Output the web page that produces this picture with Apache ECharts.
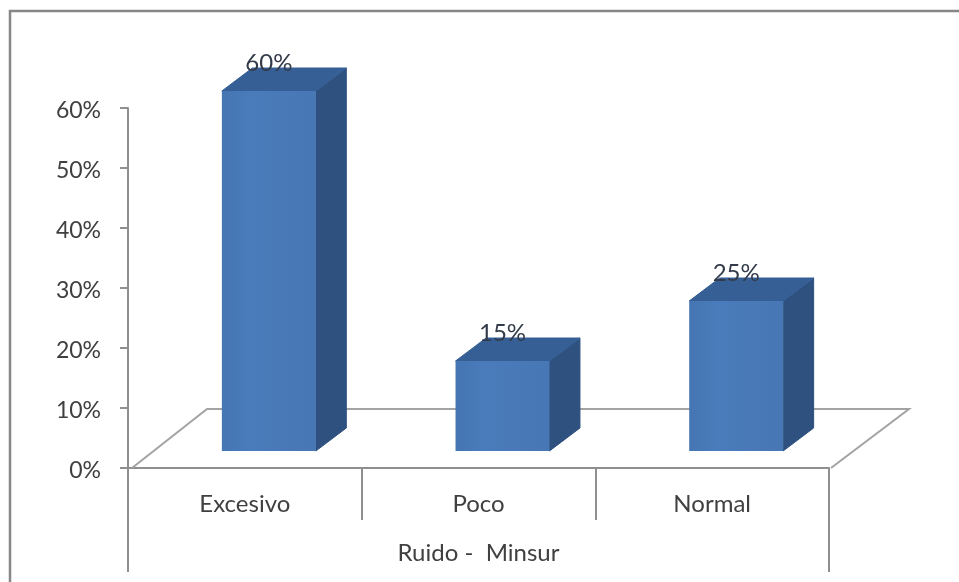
<!DOCTYPE html>
<html>
<head>
<meta charset="utf-8">
<style>
  html, body { margin: 0; padding: 0; background: #ffffff; }
  #chart { width: 959px; height: 582px; }
</style>
<script src="https://cdn.jsdelivr.net/npm/echarts@6/dist/echarts.min.js"></script>
</head>
<body>
<div id="chart"></div>
<script>
// Noise survey results, shown as percentages per category
const categories = ['Excesivo', 'Poco', 'Normal'];
const percentages = [60, 15, 25];
const groupLabel = ['Ruido -  Minsur'];

// Oblique projection used for the pseudo-3D look (pixels)
const FLOOR_DX = 78, FLOOR_DY = 59;
const BAR_DX = 30.5, BAR_DY = 23;
const BAR_LIFT = 17, BAR_SHIFT = 24, BAR_RATIO = 0.402;

const INK = '#404040';
const RULE = '#8f8f8f';
const FONT = 'Lato, "Open Sans", sans-serif';

function renderFloor(params, api) {
  const r = params.coordSys;
  const x0 = r.x, x1 = r.x + r.width, y0 = r.y + r.height;
  return {
    type: 'polyline',
    shape: {
      points: [
        [x0 + 4, y0],
        [x0 + FLOOR_DX + 1, y0 - FLOOR_DY],
        [x1 + 2 + FLOOR_DX, y0 - FLOOR_DY],
        [x1 + 2, y0]
      ]
    },
    style: { fill: 'none', stroke: '#a3a3a3', lineWidth: 2 },
    silent: true
  };
}

function renderBar(params, api) {
  const value = api.value(1);
  const base = api.coord([api.value(0), 0]);
  const top = api.coord([api.value(0), value]);
  const w = api.size([1, 0])[0] * BAR_RATIO;
  const xl = base[0] + BAR_SHIFT - w / 2, xr = xl + w;
  const yb = base[1] - BAR_LIFT, yt = top[1] - BAR_LIFT;
  return {
    type: 'group',
    children: [
      {
        type: 'polygon',
        shape: { points: [[xr, yb], [xr + BAR_DX, yb - BAR_DY], [xr + BAR_DX, yt - BAR_DY], [xr, yt]] },
        style: { fill: '#2e5180', stroke: '#2e5180', lineWidth: 1 }
      },
      {
        type: 'polygon',
        shape: { points: [[xl, yt], [xr, yt], [xr + BAR_DX, yt - BAR_DY], [xl + BAR_DX, yt - BAR_DY]] },
        style: { fill: '#365f96', stroke: '#365f96', lineWidth: 1 }
      },
      {
        type: 'rect',
        shape: { x: xl, y: yt, width: w, height: yb - yt },
        style: {
          fill: new echarts.graphic.LinearGradient(0, 0, 1, 0, [
            { offset: 0, color: '#4575b3' },
            { offset: 0.3, color: '#4a7bba' },
            { offset: 1, color: '#4877b5' }
          ])
        }
      },
      {
        type: 'text',
        style: {
          x: (xl + xr) / 2, y: yt - 28,
          text: value + '%',
          fill: '#333b4a',
          font: '24px ' + FONT,
          align: 'center', verticalAlign: 'middle'
        }
      }
    ]
  };
}

const chart = echarts.init(document.getElementById('chart'), null, { renderer: 'canvas' });
chart.setOption({
  animation: false,
  backgroundColor: '#ffffff',
  grid: { left: 128, top: 108, width: 701, height: 360 },
  graphic: [{
    type: 'polyline',
    silent: true,
    shape: { points: [[10, 582], [10, 11], [959, 11]] },
    style: { fill: 'none', stroke: '#878787', lineWidth: 2.5 }
  }],
  xAxis: [
    {
      type: 'category',
      data: categories,
      position: 'bottom',
      axisLine: { lineStyle: { color: RULE, width: 2 } },
      axisTick: { show: true, length: 52, interval: 0, alignWithLabel: false, lineStyle: { color: RULE, width: 2 } },
      axisLabel: { color: INK, fontFamily: FONT, fontSize: 24, margin: 24, interval: 0 }
    },
    {
      type: 'category',
      data: groupLabel,
      position: 'bottom',
      offset: 52,
      axisLine: { show: false },
      axisTick: { show: true, length: 52, interval: 0, lineStyle: { color: RULE, width: 2 } },
      axisLabel: { color: INK, fontFamily: FONT, fontSize: 24, margin: 21 }
    }
  ],
  yAxis: {
    type: 'value',
    min: 0, max: 60, interval: 10,
    axisLine: { show: true, lineStyle: { color: RULE, width: 2 } },
    axisTick: { show: true, length: 8, lineStyle: { color: RULE, width: 2 } },
    axisLabel: {
      margin: 27,
      formatter: '{tick|{value}%}',
      rich: { tick: { color: INK, fontFamily: FONT, fontSize: 23, padding: [6, 0, 0, 0] } }
    },
    splitLine: { show: false }
  },
  series: [
    { type: 'custom', name: 'Suelo', renderItem: renderFloor, data: [0], z: 1, silent: true },
    {
      type: 'custom',
      name: 'Ruido',
      renderItem: renderBar,
      encode: { x: 0, y: 1 },
      data: categories.map((c, i) => [i, percentages[i]]),
      z: 5
    }
  ]
});
</script>
</body>
</html>
